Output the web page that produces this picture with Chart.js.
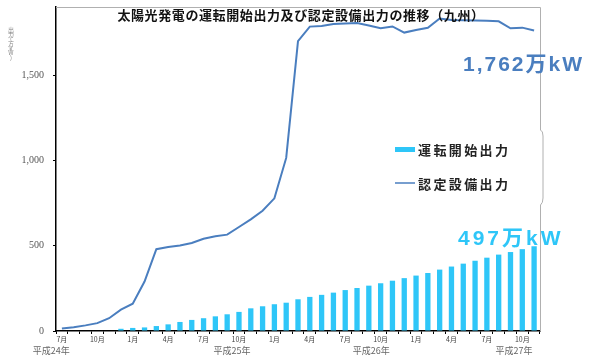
<!DOCTYPE html>
<html>
<head>
<meta charset="utf-8">
<script src="https://cdn.jsdelivr.net/npm/chart.js@4.4.1/dist/chart.umd.min.js"></script>
<style>
  body { margin: 0; background: #fff; }
  canvas { display: block; }
</style>
</head>
<body>
<canvas id="grafico" width="595" height="364"></canvas>
<script>
  // 平成24年7月 〜 平成27年11月
  const meses = ['7月','8月','9月','10月','11月','12月',
    '1月','2月','3月','4月','5月','6月','7月','8月','9月','10月','11月','12月',
    '1月','2月','3月','4月','5月','6月','7月','8月','9月','10月','11月','12月',
    '1月','2月','3月','4月','5月','6月','7月','8月','9月','10月','11月'];

  const unten = [0, 0, 0, 0, 0, 13, 18, 21, 29, 39, 53, 65, 75, 86, 98, 112, 133, 145, 157, 166,
    186, 200, 212, 225, 240, 252, 266, 280, 295, 310, 325, 340, 360, 378, 395, 412, 430, 448, 463, 480, 497];

  const nintei = [14, 22, 33, 46, 75, 125, 160, 290, 480, 492, 502, 516, 541, 555, 565, 610, 655, 705, 778, 1015,
    1700, 1785, 1788, 1800, 1803, 1806, 1792, 1776, 1786, 1750, 1765, 1778, 1833, 1824, 1822, 1821, 1820, 1816, 1775, 1779, 1762];

  const yTicks = [0, 500, 1000, 1500];
  const nendo = ['平成24年', '平成25年', '平成26年', '平成27年'];
  const nendoIdx = [-0.9, 14.4, 26.2, 38.3];

  const titulo = '太陽光発電の運転開始出力及び認定設備出力の推移（九州）';
  const corBarra = '#2ec6f8';
  const corLinha = '#4a7ebf';
  const cjk = '"Noto Sans CJK JP", sans-serif';

  const textos = {
    id: 'textos',
    afterDraw(chart) {
      const ctx = chart.ctx;
      const area = chart.chartArea;
      const x = chart.scales.x;
      ctx.save();

      // moldura cinza (topo e direita)
      ctx.strokeStyle = '#b0b0b0';
      ctx.lineWidth = 1;
      ctx.beginPath();
      ctx.moveTo(area.left, area.top + 0.5);
      ctx.lineTo(area.right + 0.5, area.top + 0.5);
      ctx.lineTo(area.right + 0.5, 130);
      ctx.quadraticCurveTo(area.right + 3, 131, area.right + 3, 136);
      ctx.lineTo(area.right + 3, 198);
      ctx.quadraticCurveTo(area.right + 3, 203, area.right + 0.5, 205);
      ctx.lineTo(area.right + 0.5, area.bottom);
      ctx.stroke();

      // titulo
      ctx.fillStyle = '#111';
      ctx.font = 'bold 13px ' + cjk;
      ctx.letterSpacing = '0.6px';
      ctx.textAlign = 'center';
      ctx.textBaseline = 'middle';
      ctx.fillText(titulo, 301, 15);

      // unidade vertical
      ctx.fillStyle = '#888';
      ctx.font = '6px ' + cjk;
      ctx.letterSpacing = '0px';
      const un = ['出', '力', '(', '万', 'k', 'W', ')'];
      un.forEach((c, i) => ctx.fillText(c, 11, 30 + i * 4.6));

      // anos
      ctx.fillStyle = '#666';
      ctx.font = '9px ' + cjk;
      nendo.forEach((t, i) => ctx.fillText(t, x.getPixelForValue(nendoIdx[i]), 351));

      // legenda
      ctx.font = 'bold 13px ' + cjk;
      ctx.letterSpacing = '2.4px';
      ctx.textAlign = 'left';
      ctx.fillStyle = corBarra;
      ctx.fillRect(395, 147, 20, 5);
      ctx.strokeStyle = corLinha;
      ctx.lineWidth = 1.5;
      ctx.beginPath();
      ctx.moveTo(395, 183);
      ctx.lineTo(415, 183);
      ctx.stroke();
      ctx.fillStyle = '#222';
      ctx.fillText(chart.data.datasets[1].label, 418, 150);
      ctx.fillText(chart.data.datasets[0].label, 418, 184);

      // valores finais
      ctx.font = 'bold 21px "Liberation Sans", ' + cjk;
      ctx.letterSpacing = '2px';
      ctx.fillStyle = corLinha;
      ctx.fillText('1,762万kW', 463, 65);
      ctx.letterSpacing = '3px';
      ctx.fillStyle = corBarra;
      ctx.fillText('497万kW', 458, 239);

      ctx.restore();
    }
  };

  new Chart(document.getElementById('grafico').getContext('2d'), {
    type: 'bar',
    data: {
      labels: meses,
      datasets: [
        {
          type: 'line',
          label: '認定設備出力',
          data: nintei,
          borderColor: corLinha,
          borderWidth: 2,
          pointRadius: 0,
          tension: 0,
          order: 0,
        },
        {
          label: '運転開始出力',
          data: unten,
          backgroundColor: corBarra,
          barPercentage: 0.9,
          categoryPercentage: 0.5,
          order: 1,
        },
      ],
    },
    options: {
      responsive: false,
      animation: false,
      layout: { padding: { top: 7, right: 55, bottom: 0, left: 0 } },
      plugins: {
        legend: { display: false },
        tooltip: { enabled: false },
      },
      scales: {
        x: {
          afterFit: (s) => { s.height = 33; s.paddingLeft = 0; s.paddingRight = 0; },
          grid: { drawOnChartArea: false, tickLength: 3, color: '#000' },
          border: { color: '#000', width: 1.5 },
          ticks: {
            autoSkip: false,
            maxRotation: 0,
            padding: 1,
            color: '#444',
            font: { size: 7, family: cjk },
            callback: function (v, i) { return i % 3 === 0 ? meses[i] : ''; },
          },
        },
        y: {
          min: 0,
          max: 1900,
          afterFit: (s) => { s.width = 56; s.paddingTop = 0; s.paddingBottom = 0; },
          afterBuildTicks: (s) => { s.ticks = yTicks.map((v) => ({ value: v })); },
          grid: { drawOnChartArea: false, tickLength: 3, color: '#000' },
          border: { color: '#000', width: 1.5 },
          ticks: {
            padding: 9,
            color: '#555',
            font: { size: 10, family: '"Liberation Serif", serif' },
            callback: (v) => v.toLocaleString('en-US'),
          },
        },
      },
    },
    plugins: [textos],
  });
</script>
</body>
</html>
